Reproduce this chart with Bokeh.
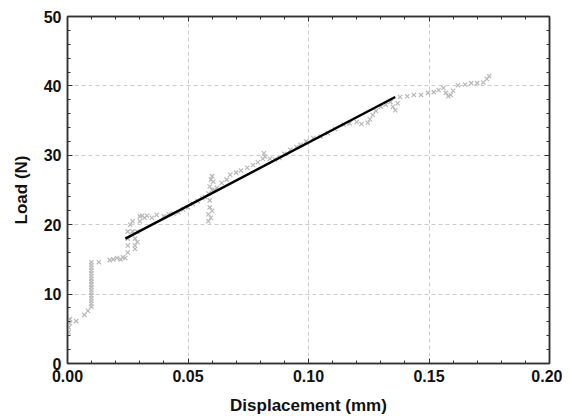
from bokeh.plotting import figure
from bokeh.models import LinearAxis, Range1d, SingleIntervalTicker, PrintfTickFormatter, CustomJSTickFormatter
from bokeh.embed import file_html
from bokeh.resources import INLINE

# measured load-displacement points (mm, N)
disp = [0.0005, 0.0005, 0.001, 0.001, 0.0036, 0.007, 0.0085,
        0.0099, 0.0099, 0.0099, 0.0099, 0.0099, 0.0099, 0.0099, 0.0099, 0.0099, 0.0099, 0.0099, 0.0099, 0.0099, 0.0099, 0.0099, 0.0099, 0.0099,
        0.013, 0.0175, 0.019, 0.0205, 0.022, 0.023, 0.024,
        0.025, 0.025, 0.025, 0.025, 0.026, 0.027, 0.027, 0.028, 0.028, 0.028, 0.029, 0.029, 0.030, 0.030,
        0.031, 0.032, 0.033, 0.035, 0.037, 0.040, 0.042, 0.044, 0.046, 0.048, 0.050, 0.052, 0.054, 0.056, 0.057,
        0.0585, 0.0585, 0.059, 0.059, 0.0585, 0.059, 0.0595, 0.060, 0.0595, 0.060, 0.060, 0.0605, 0.061, 0.062,
        0.064, 0.066, 0.0675, 0.070, 0.072, 0.0746, 0.077, 0.079, 0.081, 0.0815, 0.082, 0.084, 0.086, 0.088,
        0.090, 0.0925, 0.095, 0.0967, 0.099, 0.102, 0.105, 0.108, 0.111, 0.1146, 0.117, 0.120, 0.122, 0.1246,
        0.1255, 0.1267, 0.128, 0.130, 0.132, 0.134, 0.135, 0.136, 0.137, 0.138, 0.141, 0.1437, 0.1467, 0.1496,
        0.152, 0.154, 0.156, 0.157, 0.158, 0.159, 0.160, 0.162, 0.165, 0.1675, 0.170, 0.1725, 0.174, 0.175]
load = [4.5, 5.2, 5.8, 6.4, 6.1, 7.0, 7.6,
        8.2, 8.6, 9.0, 9.4, 9.8, 10.2, 10.6, 11.0, 11.4, 11.8, 12.2, 12.6, 13.0, 13.4, 13.8, 14.2, 14.6,
        14.6, 14.9, 15.0, 15.2, 15.0, 15.3, 15.2,
        16.0, 17.0, 18.0, 19.0, 20.0, 20.5, 19.0, 18.0, 17.0, 16.5, 17.5, 19.0, 20.5, 21.2,
        21.3, 21.0, 21.3, 21.0, 21.4, 21.2, 21.5, 21.6, 21.8, 22.2, 22.5, 23.0, 23.4, 23.8, 24.0,
        20.5, 21.5, 22.5, 23.5, 24.5, 25.5, 26.5, 27.0, 21.0, 22.0, 25.0, 26.2, 25.0, 25.3,
        26.0, 26.5, 27.2, 27.5, 27.8, 28.2, 28.6, 29.0, 29.5, 30.3, 29.8, 29.5, 29.4, 29.6,
        30.2, 30.8, 31.2, 31.5, 32.0, 32.5, 32.7, 33.2, 33.8, 34.4, 34.6, 34.8, 34.5, 34.7,
        35.2, 35.8, 36.4, 37.0, 37.3, 37.7, 37.0, 36.5, 37.5, 38.4, 38.5, 38.7, 38.7, 39.0,
        39.1, 39.4, 39.7, 39.0, 38.5, 38.7, 39.3, 40.1, 40.2, 40.4, 40.4, 40.5, 41.0, 41.4]

# linear fit segment
fit_x = [0.024, 0.136]
fit_y = [18.0, 38.4]

x_tick_step = 0.05
y_tick_step = 10

FONT = "Liberation Sans"
EDGE = "#333333"

p = figure(frame_width=482, frame_height=347,
           x_range=Range1d(0, 0.20), y_range=Range1d(0, 50),
           output_backend="svg", toolbar_location=None,
           min_border_left=67, min_border_top=16, min_border_right=13, min_border_bottom=40,
           x_axis_label="Displacement (mm)", y_axis_label="Load (N)")
p.outline_line_color = EDGE
p.outline_line_width = 1.5
p.background_fill_color = "white"
p.border_fill_color = "white"

p.scatter(disp, load, marker="x", size=6, line_color="#b8b8b8", line_width=1.2)
p.line(fit_x, fit_y, line_color="black", line_width=2.5)

p.xaxis.ticker = SingleIntervalTicker(interval=x_tick_step, num_minor_ticks=5)
p.yaxis.ticker = SingleIntervalTicker(interval=y_tick_step, num_minor_ticks=5)
p.xaxis.formatter = PrintfTickFormatter(format="%.2f")

for ax in (p.xaxis[0], p.yaxis[0]):
    ax.axis_line_color = EDGE
    ax.axis_line_width = 1.5
    ax.major_tick_in = 5
    ax.major_tick_out = 0
    ax.minor_tick_in = 3
    ax.minor_tick_out = 0
    ax.major_tick_line_color = EDGE
    ax.minor_tick_line_color = EDGE
    ax.major_label_text_font = FONT
    ax.major_label_text_font_size = "16px"
    ax.major_label_text_font_style = "bold"
    ax.major_label_text_color = "#111111"
    ax.axis_label_text_font = FONT
    ax.axis_label_text_font_size = "17px"
    ax.axis_label_text_font_style = "bold"
    ax.axis_label_text_color = "#111111"
p.xaxis.major_label_standoff = 6
p.xaxis.axis_label_standoff = 11
p.yaxis.major_label_standoff = 6
p.yaxis.axis_label_standoff = 10

for loc, interval in (("above", x_tick_step), ("right", y_tick_step)):
    ax = LinearAxis(ticker=SingleIntervalTicker(interval=interval, num_minor_ticks=5),
                    formatter=CustomJSTickFormatter(code="return '';"),
                    major_label_standoff=0,
                    axis_line_color=EDGE, axis_line_width=1.5,
                    major_tick_in=5, major_tick_out=0, minor_tick_in=3, minor_tick_out=0,
                    major_tick_line_color=EDGE, minor_tick_line_color=EDGE)
    p.add_layout(ax, loc)

p.xgrid.ticker = SingleIntervalTicker(interval=x_tick_step)
p.ygrid.ticker = SingleIntervalTicker(interval=y_tick_step)
p.grid.grid_line_color = "#cccccc"
p.grid.grid_line_dash = "4 3"
p.grid.grid_line_width = 1

open("out.html", "w").write(file_html(p, INLINE))
